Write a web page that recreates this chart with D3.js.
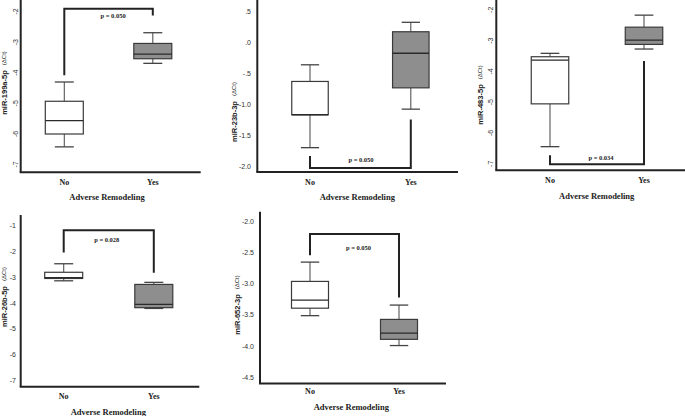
<!DOCTYPE html>
<html><head><meta charset="utf-8">
<script src="https://cdn.jsdelivr.net/npm/d3@7"></script>
<style>body{margin:0;background:#fff}svg{display:block}</style>
</head><body><svg id="c" width="685" height="416"></svg>
<script>
// ---- data ----
const categories = ["No", "Yes"];
const xTitle = "Adverse Remodeling";
const genes = ["miR-199a-5p", "miR-23b-3p", "miR-483-5p", "miR-26b-5p", "miR-652-3p"];
const pLabels = ["p = 0.050", "p = 0.050", "p = 0.034", "p = 0.028", "p = 0.050"];
// tick values and labels per panel
const ticks1 = [-2, -3, -4, -5, -6, -7];
const ticks2 = [0.5, 0, -0.5, -1, -1.5, -2];
const tickLabels2 = [".5", ".0", "-.5", "-1.0", "-1.5", "-2.0"];
const ticks3 = [-2, -3, -4, -5, -6, -7];
const ticks4 = [-1, -2, -3, -4, -5, -6, -7];
const ticks5 = [-2, -2.5, -3, -3.5, -4, -4.5];
const tickLabels5 = ["-2.0", "-2.5", "-3.0", "-3.5", "-4.0", "-4.5"];
// box stats: [lower whisker, Q1, median, Q3, upper whisker]
const no1 = [-6.44, -6.02, -5.58, -4.95, -4.32];
const yes1 = [-3.71, -3.56, -3.41, -3.06, -2.71];
const no2 = [-1.70, -1.17, -1.17, -0.634, -0.366];
const yes2 = [-1.08, -0.737, -0.18, 0.166, 0.318];
const no3 = [-6.46, -5.07, -3.65, -3.54, -3.43];
const yes3 = [-3.29, -3.14, -3.00, -2.58, -2.19];
const no4 = [-3.16, -3.07, -3.04, -2.83, -2.50];
const yes4 = [-4.23, -4.20, -4.07, -3.30, -3.22];
const no5 = [-3.52, -3.40, -3.27, -2.97, -2.66];
const yes5 = [-4.00, -3.90, -3.80, -3.58, -3.35];
// significance bracket: [bar level, No leg end, Yes leg end]
const bracket1 = [-1.93, -4.10, -2.15];
const bracket2 = [-2.027, -1.834, -1.247];
const bracket3 = [-7.03, -6.74, -3.68];
const bracket4 = [-1.20, -2.06, -2.85];
const bracket5 = [-2.21, -2.55, -3.23];

// ---- layout (pixels) ----
const panels = [
  {gene: genes[0], ticks: ticks1, labels: ticks1.map(String), no: no1, yes: yes1, br: bracket1, p: pLabels[0],
   ax: 20.7, xy: 172.3, right: 200.7, top: 0, t0: 11, t1: 164, cx: [64.3, 152.8], bw: 38, rot: true, tlx: 15,
   catY: 182, titleX: 107, titleY: 197, ylx: 4, yly: 83, pdx: 4.5, pdy: 6.7},
  {gene: genes[1], ticks: ticks2, labels: tickLabels2, no: no2, yes: yes2, br: bracket2, p: pLabels[1],
   ax: 257.3, xy: 172, right: 458, top: 0, t0: 11, t1: 166.3, cx: [310, 410.8], bw: 36.5, rot: false, tlx: 251,
   catY: 182.3, titleX: 357.3, titleY: 197.3, ylx: 234, yly: 112, pdx: 0.6, pdy: -8.4},
  {gene: genes[2], ticks: ticks3, labels: ticks3.map(String), no: no3, yes: yes3, br: bracket3, p: pLabels[2],
   ax: 496.3, xy: 170.3, right: 685, top: 0, t0: 9.3, t1: 163.3, cx: [550, 644], bw: 37.5, rot: true, tlx: 490.7,
   catY: 180.5, titleX: 596.7, titleY: 196, ylx: 480, yly: 95, pdx: 4, pdy: -7},
  {gene: genes[3], ticks: ticks4, labels: ticks4.map(String), no: no4, yes: yes4, br: bracket4, p: pLabels[3],
   ax: 20.7, xy: 386.7, right: 199.3, top: 215, t0: 225, t1: 380, cx: [63.7, 153.8], bw: 38, rot: false, tlx: 16,
   catY: 396.7, titleX: 108.3, titleY: 411.5, ylx: 4, yly: 297, pdx: -2, pdy: 9},
  {gene: genes[4], ticks: ticks5, labels: tickLabels5, no: no5, yes: yes5, br: bracket5, p: pLabels[4],
   ax: 260, xy: 383.5, right: 446, top: 211.7, t0: 221, t1: 376.7, cx: [310, 399], bw: 37, rot: false, tlx: 254,
   catY: 391.5, titleX: 351.3, titleY: 406.7, ylx: 237.3, yly: 305, pdx: 4, pdy: 13}
];

const svg = d3.select("#c");
const fills = {No: "#ffffff", Yes: "#8e8e8e"};

panels.forEach(P => {
  const g = svg.append("g");
  const y = d3.scaleLinear().domain([P.ticks[0], P.ticks[P.ticks.length - 1]]).range([P.t0, P.t1]);
  const x = d3.scalePoint().domain(categories).range(P.cx);

  // y tick labels via axis
  const yAxis = d3.axisLeft(y).tickValues(P.ticks).tickSize(0)
    .tickFormat((d, i) => P.labels[i]);
  const ag = g.append("g").attr("transform", `translate(${P.tlx},0)`).call(yAxis);
  ag.select(".domain").remove();
  ag.selectAll("text").attr("font-family", "Liberation Sans, Arial, sans-serif")
    .attr("font-size", 7).attr("fill", "#333").attr("x", 0).attr("dy", null)
    .attr("dominant-baseline", "central");
  if (P.rot) {
    ag.selectAll(".tick text").attr("text-anchor", "middle")
      .attr("transform", "rotate(-90)");
  } else {
    ag.selectAll(".tick text").attr("text-anchor", "end");
  }

  // axis lines
  g.append("line").attr("x1", P.ax).attr("x2", P.ax).attr("y1", P.top).attr("y2", P.xy)
    .attr("stroke", "#222").attr("stroke-width", 2);
  g.append("line").attr("x1", P.ax - 1).attr("x2", P.right).attr("y1", P.xy).attr("y2", P.xy)
    .attr("stroke", "#222").attr("stroke-width", 2);

  // boxes
  const data = [{k: "No", s: P.no}, {k: "Yes", s: P.yes}];
  data.forEach(d => {
    const c = x(d.k), s = d.s, hw = P.bw / 2, cap = P.bw / 4;
    const bg = g.append("g");
    bg.append("line").attr("x1", c).attr("x2", c).attr("y1", y(s[4])).attr("y2", y(s[3]))
      .attr("stroke", "#555").attr("stroke-width", 1.1);
    bg.append("line").attr("x1", c).attr("x2", c).attr("y1", y(s[1])).attr("y2", y(s[0]))
      .attr("stroke", "#555").attr("stroke-width", 1.1);
    bg.append("line").attr("x1", c - cap).attr("x2", c + cap).attr("y1", y(s[4])).attr("y2", y(s[4]))
      .attr("stroke", "#444").attr("stroke-width", 1.3);
    bg.append("line").attr("x1", c - cap).attr("x2", c + cap).attr("y1", y(s[0])).attr("y2", y(s[0]))
      .attr("stroke", "#444").attr("stroke-width", 1.3);
    bg.append("rect").attr("x", c - hw).attr("y", y(s[3])).attr("width", P.bw)
      .attr("height", Math.max(0.5, y(s[1]) - y(s[3])))
      .attr("fill", fills[d.k]).attr("stroke", "#3a3a3a").attr("stroke-width", 1.2);
    bg.append("line").attr("x1", c - hw).attr("x2", c + hw).attr("y1", y(s[2])).attr("y2", y(s[2]))
      .attr("stroke", "#2a2a2a").attr("stroke-width", 1.3);
  });

  // significance bracket
  const b = P.br;
  g.append("path")
    .attr("d", `M${x("No")},${y(b[1])}V${y(b[0])}H${x("Yes")}V${y(b[2])}`)
    .attr("fill", "none").attr("stroke", "#222").attr("stroke-width", 2);
  g.append("text").attr("x", (x("No") + x("Yes")) / 2 + P.pdx).attr("y", y(b[0]) + P.pdy)
    .attr("text-anchor", "middle").attr("dominant-baseline", "central")
    .attr("font-family", "Liberation Serif, Times New Roman, serif").attr("font-weight", "bold")
    .attr("font-size", 6.5).attr("fill", "#222").text(P.p);

  // category labels
  categories.forEach(cat => {
    g.append("text").attr("x", x(cat)).attr("y", P.catY).attr("text-anchor", "middle")
      .attr("dominant-baseline", "central")
      .attr("font-family", "Liberation Serif, Times New Roman, serif").attr("font-weight", "bold")
      .attr("font-size", 8).attr("fill", "#222").text(cat);
  });
  // x title
  g.append("text").attr("x", P.titleX).attr("y", P.titleY).attr("text-anchor", "middle")
    .attr("dominant-baseline", "central")
    .attr("font-family", "Liberation Serif, Times New Roman, serif").attr("font-weight", "bold")
    .attr("font-size", 8.5).attr("fill", "#222").text(xTitle);

  // y title (rotated)
  const yt = g.append("text").attr("transform", `translate(${P.ylx},${P.yly}) rotate(-90)`)
    .attr("text-anchor", "middle").attr("dominant-baseline", "central")
    .attr("font-family", "Liberation Sans, Arial, sans-serif").attr("fill", "#222");
  yt.append("tspan").attr("font-weight", "bold").attr("font-size", 7.5).text(P.gene);
  yt.append("tspan").attr("font-size", 6).attr("dx", 5).text("(ΔCt)");
});
</script></body></html>
